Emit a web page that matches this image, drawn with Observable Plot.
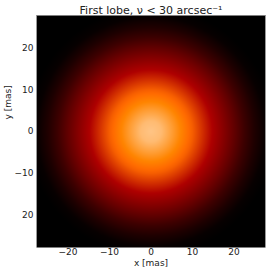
<!DOCTYPE html>
<html><head><meta charset="utf-8">
<script src="https://cdn.jsdelivr.net/npm/d3@7"></script>
<script src="https://cdn.jsdelivr.net/npm/@observablehq/plot@0.6"></script>
<style>body{margin:0;background:#fff}</style>
</head><body><div id="chart"></div>
<script>
// Radial intensity profile (colour-table level 0..255)
const profileRadius = [0, 2.5, 5, 7.5, 10, 12.5, 15, 17.5, 20, 22.5, 25, 27.5, 30, 45];
const profileLevel  = [224, 219, 204, 188, 170, 144, 118, 93, 68, 42, 21, 5, 0, 0];
const xDomain = [-27.6, 27.6];
const yDomain = [-27.8, 27.8];
const xTicks = [-20, -10, 0, 10, 20];
const xTickLabels = ["\u221220", "\u221210", "0", "10", "20"];
const yTicks = [20, 10, 0, -10, -20];
const yTickLabels = ["20", "10", "0", "\u221210", "20"];
const titleText = "First lobe, \u03bd < 30 arcsec\u207b\u00b9";
const xLabel = "x [mas]";
const yLabel = "y [mas]";

// IDL "Red Temperature"-like colour table
function redTemp(t) {
  const i = t * 255;
  const r = Math.min(255, i * 255 / 176);
  const g = Math.max(0, Math.min(255, (i - 120) * 255 / 135));
  const b = Math.max(0, Math.min(255, (i - 190) * 255 / 65));
  return `rgb(${Math.round(r)},${Math.round(g)},${Math.round(b)})`;
}
function level(x, y) {
  const r = Math.hypot(x, y);
  for (let k = 1; k < profileRadius.length; k++) {
    if (r <= profileRadius[k]) {
      const t = (r - profileRadius[k-1]) / (profileRadius[k] - profileRadius[k-1]);
      return profileLevel[k-1] + t * (profileLevel[k] - profileLevel[k-1]);
    }
  }
  return 0;
}

const font = "DejaVu Sans";
const chart = Plot.plot({
  width: 266, height: 270,
  marginLeft: 36, marginRight: 1, marginTop: 15, marginBottom: 23,
  style: {fontFamily: font, fontSize: "9px", color: "#222", background: "#fff"},
  x: {domain: xDomain, label: null},
  y: {domain: yDomain, label: null},
  color: {type: "linear", domain: [0, 255], interpolate: redTemp},
  marks: [
    Plot.raster({fill: level, x1: xDomain[0], x2: xDomain[1], y1: yDomain[0], y2: yDomain[1], pixelSize: 1}),
    Plot.ruleX(xDomain, {stroke: "#999", strokeWidth: 1}),
    Plot.axisX(xTicks, {tickSize: 0, tickPadding: 1, tickFormat: (d, i) => xTickLabels[i], fontSize: 9}),
    Plot.axisY(yTicks, {tickSize: 0, tickPadding: 3, tickFormat: (d, i) => yTickLabels[i], fontSize: 9}),
    Plot.text([titleText], {frameAnchor: "top", dy: -9, fontSize: 11}),
    Plot.text([xLabel], {frameAnchor: "bottom", dy: 18, fontSize: 9}),
    Plot.text([yLabel], {frameAnchor: "left", dx: -28, dy: -12, rotate: -90, fontSize: 9})
  ]
});
document.getElementById("chart").appendChild(chart);
</script>
</body></html>
